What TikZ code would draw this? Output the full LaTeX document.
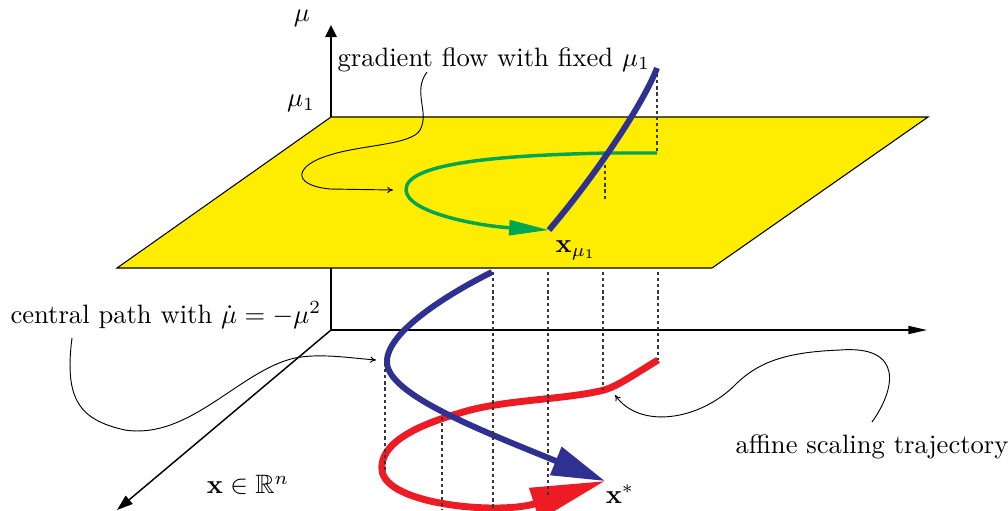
\documentclass[tikz,border=0pt]{standalone}
\usepackage{amsmath,amssymb}
\usetikzlibrary{arrows.meta}
\definecolor{planey}{RGB}{255,237,0}
\definecolor{bluec}{RGB}{46,49,146}
\definecolor{greenc}{RGB}{0,166,81}
\definecolor{redc}{RGB}{237,28,36}
\definecolor{dashc}{RGB}{55,55,55}
\begin{document}
\begin{tikzpicture}[x=0.376pt,y=-0.376pt,
  axis/.style={line width=0.55pt,black},
  plane/.style={fill=planey,draw=black,line width=0.4pt},
  bluepath/.style={bluec,line width=2.25pt},
  redpath/.style={redc,line width=2.6pt},
  greenpath/.style={greenc,line width=1.3pt},
  drop/.style={dashc,line width=0.7pt,dash pattern=on 1.2pt off 1.1pt},
  note/.style={line width=0.35pt,black,-{To[length=2.2pt,width=2.4pt]}},
  lbl/.style={inner sep=0pt}]
\useasboundingbox (0,0) rectangle (1008,510);
% axes
\coordinate (O) at (331,330);
\coordinate (Mtop) at (331,25);
\coordinate (Xend) at (927,330);
\coordinate (Dend) at (117,510);
\draw[axis,-{Triangle[length=4.6pt,width=4.4pt]}] (O) -- (Mtop);
\draw[axis,-{Triangle[length=7pt,width=3pt]}] (O) -- (Xend);
\draw[axis,-{Triangle[length=6pt,width=4pt]}] (O) -- (Dend);
% plane
\coordinate (P1) at (331,117);
\coordinate (P2) at (928,117);
\coordinate (P3) at (712,268);
\coordinate (P4) at (117,268);
\filldraw[plane] (P1) -- (P2) -- (P3) -- (P4) -- cycle;
% key points
\coordinate (Btop) at (657,68);
\coordinate (Gstart) at (657,153);
\coordinate (Xmu) at (549,230);
\coordinate (Lb) at (492,272);
\coordinate (Lr) at (658,360);
\coordinate (Xs) at (605,481);
% upper dashed
\draw[drop] (Btop) -- (Gstart);
\draw[drop] (605,165) -- (605,200);
% green flow
\draw[greenpath,-{Triangle[length=15pt,width=5.6pt]}] (Gstart) -- (610,153)
  .. controls (500,155) and (405,163) .. (406,190)
  .. controls (407,213) and (480,226) .. (Xmu);
% blue upper
\draw[bluepath] (Btop) .. controls (645,100) and (600,170) .. (Xmu);
% red trajectory
\draw[redpath,-{Triangle[length=28pt,width=12pt]}] (Lr)
  .. controls (630,377) and (615,388) .. (600,391)
  .. controls (560,400) and (500,400) .. (460,413)
  .. controls (400,430) and (380,450) .. (382,470)
  .. controls (385,505) and (500,515) .. (Xs);
% blue lower
\draw[bluepath,-{Triangle[length=20pt,width=11pt]}] (Lb)
  .. controls (440,298) and (385,335) .. (387,363)
  .. controls (389,395) and (480,430) .. (Xs);
% lower dashed
\draw[drop] (493,272) -- (493,510);
\draw[drop] (548,272) -- (548,497);
\draw[drop] (603,272) -- (603,390);
\draw[drop] (658,272) -- (658,360);
\draw[drop] (385,363) -- (385,473);
\draw[drop] (442,417) -- (442,510);
% labels
\node[lbl] (mu) at (302,18) {$\mu$};
\node[lbl] (mu1) at (301,103) {$\mu_1$};
\node[lbl,anchor=base west] (grad) at (337,66) {gradient flow with fixed $\mu_1$};
\node[lbl] (xmu) at (576,250) {$\mathbf{x}_{\mu_1}$};
\node[lbl] (xstar) at (620,494) {$\mathbf{x}^*$};
\node[lbl] (xrn) at (248,485) {$\mathbf{x}\in\mathbb{R}^n$};
\node[lbl,anchor=base west] (cp) at (10,323) {central path with $\dot{\mu}=-\mu^2$};
\node[lbl,anchor=base west] (aff) at (735,453) {affine scaling trajectory};
% annotation curves
\coordinate (g0) at (427,72);
\coordinate (g1) at (393,190);
\draw[note] (g0) .. controls (412,92) and (430,112) .. (420,130)
  .. controls (412,145) and (360,145) .. (330,155)
  .. controls (295,165) and (290,185) .. (330,189) -- (g1);
\coordinate (c0) at (72,338);
\coordinate (c1) at (376,360);
\draw[note] (c0) .. controls (64,400) and (80,420) .. (125,430)
  .. controls (190,440) and (240,370) .. (295,358)
  .. controls (320,353) and (350,358) .. (c1);
\coordinate (a0) at (872,422);
\coordinate (a1) at (615,395);
\draw[note] (a0) .. controls (895,390) and (905,345) .. (840,350)
  .. controls (790,352) and (760,360) .. (735,385)
  .. controls (700,420) and (640,430) .. (a1);
\end{tikzpicture}
\end{document}
